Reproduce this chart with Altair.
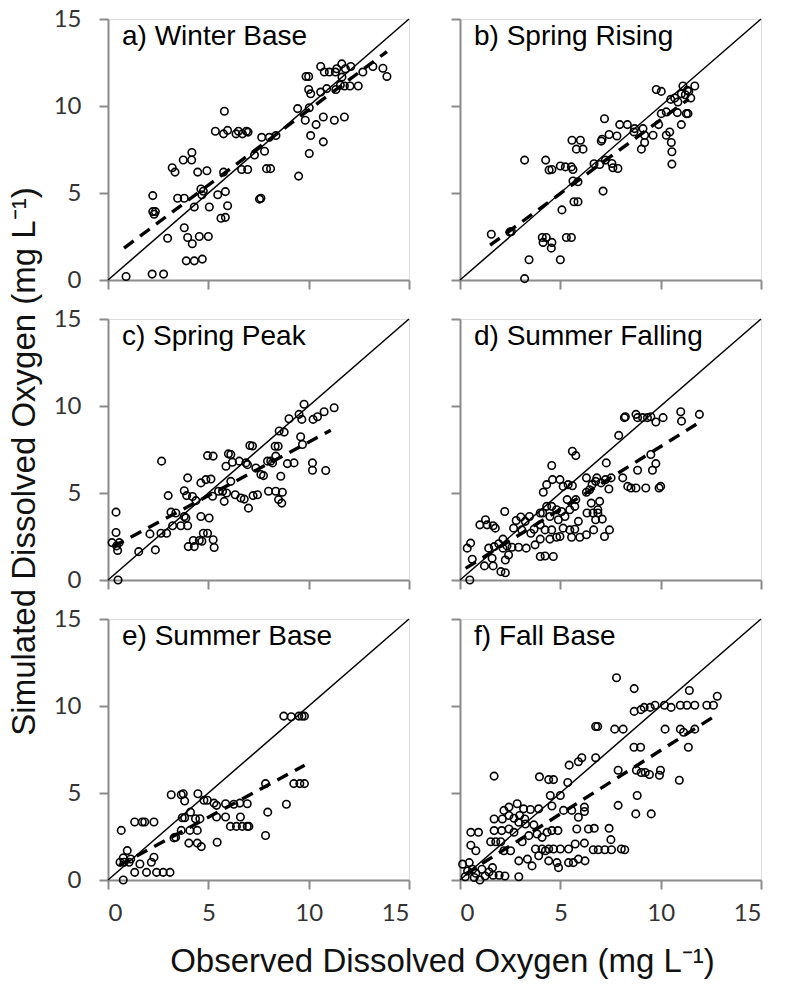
import altair as alt
import pandas as pd

# ---- data (observed, simulated), mg/L ----
pts_a = [(0.9,0.2),(2.2,0.34),(2.77,0.34),(3.9,1.1),(4.3,1.1),(4.7,1.2),(2.97,2.4),(3.8,3.0),(3.97,2.44),(4.2,2.08),
         (4.55,2.5),(5.0,2.5),(2.23,4.85),(2.23,3.93),(2.36,3.93),(2.3,3.78),(3.47,4.7),(3.8,4.7),(4.3,4.2),(3.2,6.45),
         (3.34,6.2),(3.75,6.9),(4.17,6.9),(4.18,7.33),(4.47,6.2),(4.93,6.28),(4.63,5.23),(4.75,5.1),(4.68,4.9),(5.05,4.2),
         (5.47,4.9),(5.85,5.08),(5.96,4.27),(5.63,3.55),(5.85,3.6),(5.76,6.2),(5.8,9.7),(5.35,8.55),(5.76,8.4),(5.96,8.6),
         (6.38,8.4),(6.5,8.55),(6.7,8.4),(6.9,8.55),(6.98,8.5),(6.66,6.35),(6.96,6.35),(7.3,7.18),(7.66,8.2),(8.04,8.2),
         (8.37,8.3),(7.8,7.4),(7.9,6.4),(8.1,6.4),(7.55,4.65),(7.62,4.7),(9.5,5.97),(9.45,9.85),(9.83,9.18),(10.03,9.9),
         (10.1,8.3),(10.03,7.27),(10.37,8.93),(10.73,9.37),(10.73,7.94),(11.28,9.18),(11.78,9.37),(9.87,11.7),(10.0,11.7),
         (10.0,10.95),(10.1,10.7),(10.6,12.27),(10.78,11.95),(11.03,11.95),(11.33,11.95),(11.4,12.14),(11.65,12.42),
         (11.83,12.14),(12.1,12.27),(11.66,11.66),(10.6,10.8),(10.9,11.0),(11.36,10.95),(11.58,11.2),(11.78,11.15),
         (12.06,11.15),(12.47,11.15),(12.7,11.95),(13.2,12.27),(13.7,12.17),(13.9,11.7)]
fit_a = ([0.8, 13.9], [1.83, 13.13])

pts_b = [(3.22,0.08),(3.44,1.16),(5.0,1.16),(4.1,2.44),(4.3,2.44),(4.14,2.16),(4.58,2.16),(4.55,1.83),(5.3,2.44),
         (5.55,2.44),(5.08,4.03),(5.68,4.5),(5.88,4.5),(7.13,5.11),(1.56,2.63),(2.48,2.75),(2.56,2.79),(3.22,6.89),
         (4.27,6.89),(4.44,6.32),(4.58,6.35),(5.0,6.55),(5.25,6.5),(5.55,6.5),(5.63,6.35),(5.63,5.69),(5.88,5.65),
         (5.58,8.03),(6.0,8.03),(5.8,7.52),(6.13,7.52),(6.68,6.68),(6.96,6.64),(7.04,7.98),(7.08,8.09),(7.43,8.36),
         (7.82,8.28),(7.2,9.27),(7.24,6.89),(7.57,6.7),(7.87,6.41),(7.62,6.45),(7.96,8.93),(8.34,8.93),(8.7,8.7),
         (9.12,8.7),(9.2,8.32),(9.2,7.9),(9.04,7.52),(9.62,8.32),(9.78,10.95),(10.03,10.84),(9.9,8.93),(10.03,9.56),
         (10.28,9.66),(10.28,8.32),(10.45,8.51),(10.53,7.9),(10.56,7.37),(10.56,6.66),(10.5,10.38),(10.7,10.46),
         (10.86,10.23),(10.83,9.62),(11.03,8.93),(11.11,11.15),(11.33,10.9),(11.4,10.84),(11.5,10.46),(11.7,11.15),
         (11.28,9.56),(11.36,9.56),(11.03,10.7),(11.23,10.65),(8.67,8.51)]
fit_b = ([1.5, 11.4], [2.0, 10.4])

pts_c = [(0.5,0.0),(0.2,2.15),(0.43,1.96),(0.56,2.15),(0.48,1.7),(0.4,2.73),(0.4,3.9),(1.53,1.63),(2.36,1.73),
         (2.09,2.65),(2.64,2.69),(2.92,2.69),(2.67,6.83),(3.0,4.85),(3.14,3.9),(3.38,3.85),(3.22,3.12),(3.63,3.12),
         (3.97,3.12),(3.8,3.65),(3.88,3.56),(3.8,5.13),(3.92,4.85),(3.97,5.87),(4.21,4.8),(4.38,4.56),(4.0,1.92),
         (4.3,1.92),(4.25,2.27),(4.55,2.27),(4.68,2.23),(4.75,2.69),(4.96,2.69),(5.24,2.31),(5.29,1.87),(4.63,3.65),
         (5.04,3.56),(4.63,5.58),(4.88,5.77),(5.13,5.8),(4.96,7.15),(5.24,7.12),(5.21,4.81),(5.51,5.1),(5.71,5.1),
         (5.91,5.0),(5.79,4.52),(5.88,6.54),(6.0,7.25),(6.12,7.21),(6.12,5.67),(6.2,6.77),(6.54,6.83),(6.34,4.9),
         (6.62,4.71),(6.79,4.65),(7.0,4.13),(6.87,6.73),(6.95,6.63),(7.07,7.73),(7.2,7.7),(7.23,4.85),(7.45,4.9),
         (7.37,6.44),(7.62,6.06),(7.75,6.0),(7.95,6.83),(8.11,6.83),(8.2,6.73),(8.0,5.1),(8.36,5.1),(8.69,5.04),
         (8.5,4.62),(8.66,4.42),(8.33,7.69),(8.48,7.69),(8.36,7.12),(8.53,8.56),(8.78,8.5),(8.61,5.96),(8.94,6.69),
         (9.27,6.73),(9.02,9.27),(9.52,9.52),(9.66,9.23),(9.6,8.23),(9.69,7.79),(9.77,10.1),(10.19,6.73),(10.19,6.31),
         (10.22,9.23),(10.44,9.38),(10.77,9.67),(11.27,9.9),(10.85,6.29)]
fit_c = ([0.25, 11.1], [1.92, 8.6])

pts_d = [(0.49,0.0),(0.36,1.83),(0.53,2.12),(0.61,1.19),(0.99,3.17),(1.27,3.46),(1.35,3.17),(1.65,3.12),(1.76,2.98),
         (1.22,0.81),(1.65,0.81),(2.04,0.48),(2.26,0.42),(1.43,1.83),(1.71,1.92),(1.93,2.08),(2.14,1.83),(2.34,1.96),
         (2.59,1.88),(1.6,1.25),(2.26,1.15),(2.42,1.44),(2.14,2.35),(2.23,3.94),(2.67,2.98),(2.8,3.42),(3.03,3.62),
         (3.25,3.37),(3.46,3.65),(2.92,1.88),(3.3,1.83),(3.74,2.02),(3.08,2.88),(3.53,2.69),(3.69,2.92),(4.0,1.35),
         (4.24,1.38),(4.65,1.35),(4.0,2.35),(4.48,2.35),(4.0,3.17),(4.24,2.88),(4.12,3.85),(4.32,4.23),(4.0,3.85),
         (4.15,5.04),(4.32,5.48),(4.61,5.77),(4.98,5.77),(4.57,6.58),(4.57,4.23),(4.81,4.04),(4.48,3.65),(4.9,3.46),
         (4.98,2.5),(4.81,2.46),(4.57,2.88),(5.14,5.38),(5.39,5.48),(5.6,5.42),(5.06,3.94),(5.23,3.65),(5.47,4.04),
         (5.72,4.23),(5.34,4.62),(5.77,4.62),(5.14,2.98),(5.47,2.88),(5.72,2.92),(5.9,3.37),(5.6,7.4),(5.77,7.15),
         (5.56,2.46),(5.97,2.46),(6.3,2.6),(6.66,2.88),(7.2,2.5),(7.45,2.88),(6.3,5.87),(6.58,5.48),(6.76,5.67),
         (6.46,5.19),(6.3,5.04),(6.33,3.85),(6.63,3.85),(6.87,3.85),(6.54,4.42),(6.96,4.52),(6.87,4.04),(6.76,3.46),
         (7.09,3.5),(6.82,5.87),(7.03,5.58),(7.25,5.77),(7.42,5.23),(7.53,5.87),(7.29,6.73),(7.91,8.31),(8.11,5.87),
         (8.19,9.33),(8.24,9.38),(8.77,9.52),(8.85,9.33),(9.1,9.33),(9.34,9.33),(9.51,9.38),(9.76,9.08),(10.12,9.33),
         (8.36,5.38),(8.52,5.29),(8.77,5.29),(9.26,5.29),(9.92,5.29),(10.0,5.38),(8.85,6.31),(9.51,7.21),(9.76,6.69),
         (9.59,6.31),(11.0,9.67),(11.04,9.13),(11.93,9.52)]
fit_d = ([0.28, 11.9], [0.67, 9.04])

pts_e = [(0.76,0.0),(0.66,2.85),(0.6,1.02),(0.8,1.02),(0.96,1.69),(1.05,1.02),(0.76,1.27),(1.13,1.21),(1.33,0.44),
         (1.59,0.92),(1.92,0.44),(2.16,1.02),(2.29,1.31),(2.42,0.44),(2.75,0.44),(3.09,0.44),(1.33,3.33),(1.71,3.33),
         (1.83,3.33),(2.29,3.33),(3.15,4.9),(3.65,4.9),(3.75,4.96),(3.82,4.54),(3.29,2.42),(3.37,2.46),(3.65,2.85),
         (4.08,2.85),(4.45,2.85),(3.7,3.58),(3.82,3.58),(4.11,3.9),(4.36,3.52),(4.58,3.52),(4.03,2.12),(4.45,2.12),
         (4.65,1.92),(4.48,4.96),(4.78,4.58),(4.95,4.58),(5.28,4.42),(5.41,4.29),(5.44,2.17),(5.41,3.62),(5.86,3.62),
         (6.1,3.08),(6.4,3.08),(6.6,3.62),(6.69,3.08),(6.94,3.08),(7.02,3.08),(5.86,4.38),(6.27,4.35),(6.57,4.42),
         (6.94,4.38),(7.85,2.56),(7.96,3.9),(7.85,5.54),(8.89,4.35),(9.26,5.54),(9.56,5.54),(9.79,5.54),(8.76,9.42),
         (9.13,9.38),(9.51,9.42),(9.67,9.42),(9.79,9.42)]
fit_e = ([0.55, 9.8], [0.83, 6.6])

pts_f = [(0.13,0.91),(0.26,0.19),(0.38,0.52),(0.46,1.0),(0.63,0.62),(0.71,0.14),(0.79,0.39),(0.99,0.0),(1.09,0.62),
         (1.25,0.23),(1.45,0.46),(1.62,0.71),(1.65,0.27),(1.95,0.27),(2.24,0.23),(2.93,0.19),(0.54,2.74),(0.92,2.74),
         (0.54,2.0),(0.79,1.68),(1.53,2.2),(1.78,2.2),(2.03,2.2),(2.19,1.68),(2.52,1.68),(1.7,2.84),(2.08,2.84),
         (2.44,2.93),(2.69,2.74),(1.7,3.51),(2.11,3.51),(2.44,3.71),(2.69,3.55),(2.97,3.71),(3.23,3.51),(2.19,4.0),
         (2.44,4.19),(2.85,4.38),(3.17,4.09),(3.51,4.05),(3.92,4.09),(1.7,5.97),(2.93,3.32),(3.26,3.22),(3.68,3.17),
         (3.84,2.64),(4.09,2.45),(4.34,2.74),(4.58,2.84),(4.88,2.84),(2.93,1.1),(3.36,1.2),(3.59,0.81),(3.92,1.39),
         (4.26,1.68),(4.42,1.1),(4.83,1.0),(4.91,0.71),(3.1,2.2),(3.43,2.55),(3.76,1.78),(4.09,1.78),(4.42,1.78),
         (4.66,1.78),(5.0,1.78),(5.41,1.78),(5.74,2.07),(5.41,1.0),(5.65,1.0),(5.9,1.2),(6.23,1.1),(3.96,5.93),
         (4.42,5.77),(4.66,5.77),(4.5,4.86),(5.0,4.86),(4.58,4.25),(5.37,5.6),(5.44,6.6),(5.9,6.8),(6.07,7.03),
         (6.76,7.03),(5.16,4.0),(5.57,4.0),(5.9,3.61),(6.2,4.19),(6.2,3.94),(5.82,2.93),(6.4,2.93),(6.69,2.97),
         (7.43,2.97),(6.2,2.12),(6.64,1.74),(6.89,1.74),(7.22,1.74),(7.55,1.74),(7.52,2.32),(8.04,1.78),(8.21,1.74),
         (6.76,8.82),(6.86,8.82),(7.71,8.67),(8.13,8.67),(7.8,11.62),(7.88,6.31),(7.88,4.29),(8.68,11.0),(8.68,9.69),
         (9.02,9.79),(9.18,9.92),(9.48,9.92),(9.72,10.04),(8.83,4.86),(8.76,3.8),(9.53,3.8),(8.67,7.63),(9.0,7.63),
         (8.79,6.31),(9.03,6.18),(9.23,6.18),(9.44,6.06),(9.99,6.31),(9.94,6.02),(10.19,10.04),(10.52,9.92),
         (10.98,10.04),(11.31,10.04),(11.7,10.04),(12.3,10.04),(12.63,10.04),(10.22,8.67),(10.98,8.67),(11.14,8.49),
         (11.7,8.67),(10.93,5.73),(11.38,7.63),(11.43,10.89),(12.82,10.56)]
fit_f = ([0.26, 12.86], [0.33, 9.54])

one_to_one = ([0, 15], [0, 15])
tick_values = [0, 5, 10, 15]
labels = ["a) Winter Base", "b) Spring Rising", "c) Spring Peak",
          "d) Summer Falling", "e) Summer Base", "f) Fall Base"]
x_title = "Observed Dissolved Oxygen (mg L\u207b\u00b9)"
y_title = "Simulated Dissolved Oxygen (mg L\u207b\u00b9)"

W, H = 301, 261
AXIS_GRAY = "#8a8a8a"
TICK_FONT = "Lato"
TEXT_FONT = "Liberation Sans"


def make_axis(show_labels, title=None, **kw):
    args = dict(values=tick_values, labels=show_labels, ticks=True, tickSize=9,
                tickColor=AXIS_GRAY, tickWidth=2, domainColor=AXIS_GRAY, domainWidth=2,
                grid=False, labelFont=TICK_FONT, labelFontSize=24, labelColor="#333333",
                titleFont=TEXT_FONT, titleFontSize=33, titleFontWeight="normal",
                titleColor="#111111", title=title)
    args.update(kw)
    return alt.Axis(**args)


def panel(pts, fit, label, xlab, ylab, xaxis_kw=None, yaxis_kw=None):
    scale = alt.Scale(domain=[0, 15], nice=False, zero=False)
    xa = make_axis(xlab, **(xaxis_kw or {}))
    ya = make_axis(ylab, labelPadding=18, **(yaxis_kw or {}))

    def enc(xf, yf):
        return dict(x=alt.X(xf, type="quantitative", scale=scale, axis=xa),
                    y=alt.Y(yf, type="quantitative", scale=scale, axis=ya))

    df = pd.DataFrame(pts, columns=["obs", "sim"])
    diag = pd.DataFrame({"obs": one_to_one[0], "sim": one_to_one[1]})
    fdf = pd.DataFrame({"obs": fit[0], "sim": fit[1]})
    ldf = pd.DataFrame({"t": [label]})

    l1 = alt.Chart(diag).mark_line(color="black", strokeWidth=1.5).encode(**enc("obs", "sim"))
    l2 = alt.Chart(fdf).mark_line(color="black", strokeWidth=3.4, strokeDash=[12, 8]).encode(**enc("obs", "sim"))
    p = alt.Chart(df).mark_point(shape="circle", filled=False, color="black", size=56,
                                 strokeWidth=1.6, opacity=1).encode(**enc("obs", "sim"))
    t = alt.Chart(ldf).mark_text(align="left", baseline="alphabetic", font=TEXT_FONT,
                                 fontSize=28, color="black").encode(
        x=alt.value(14), y=alt.value(26), text="t:N")
    return alt.layer(l1, l2, p, t).properties(width=W, height=H)


pa = panel(pts_a, fit_a, labels[0], False, True)
pb = panel(pts_b, fit_b, labels[1], False, False)
pc = panel(pts_c, fit_c, labels[2], False, True,
           yaxis_kw=dict(title=y_title, titlePadding=12, titleY=142))
pd_ = panel(pts_d, fit_d, labels[3], False, False)
pe = panel(pts_e, fit_e, labels[4], True, True,
           xaxis_kw=dict(title=x_title, titleX=334, titlePadding=20, labelPadding=12))
pf = panel(pts_f, fit_f, labels[5], True, False, xaxis_kw=dict(labelPadding=12))

chart = alt.concat(pa, pb, pc, pd_, pe, pf, columns=2,
                   spacing=alt.RowColnumber(row=39, column=51), bounds="flush").properties(
    padding={"left": 7, "top": 6, "right": 10, "bottom": 2}
).configure_view(stroke=None).configure(background="white")

chart.save("out.html", embed_options={"renderer": "svg", "actions": False})
